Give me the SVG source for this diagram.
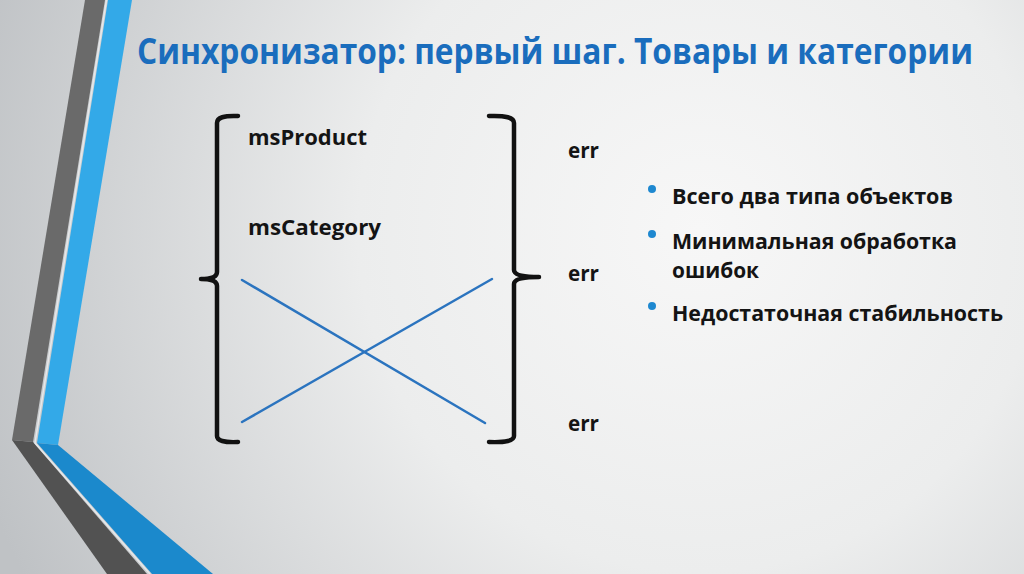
<svg xmlns="http://www.w3.org/2000/svg" width="1024" height="574" viewBox="0 0 1024 574">
<defs>
<radialGradient id="bg" cx="700" cy="230" r="760" gradientUnits="userSpaceOnUse">
<stop offset="0" stop-color="#f7f7f7"/>
<stop offset="0.45" stop-color="#eceded"/>
<stop offset="1" stop-color="#bfc2c5"/>
</radialGradient>
<style>
.title{font-family:"Open Sans","Noto Sans","Liberation Sans",sans-serif;font-weight:bold;font-size:36px;fill:#1a6dbd}
.t{font-family:"Open Sans","Noto Sans","Liberation Sans",sans-serif;font-weight:bold;font-size:21px;fill:#141414}
.brace{fill:none;stroke:#111;stroke-width:4.5;stroke-linecap:round;stroke-linejoin:round}
.x{stroke:#2b74bf;stroke-width:2.5;stroke-linecap:round}
.dot{fill:#1e88d0}
</style>
</defs>
<rect width="1024" height="574" fill="url(#bg)"/>
<g id="decoration">
<polygon points="85,0 105,0 33,442 12,440" fill="#6a6a6a"/>
<polygon points="12,440 33,442 147,574 107,574" fill="#525252"/>
<polygon points="108,0 132,0 58,445 37,443" fill="#33a9e8"/>
<polygon points="37,443 58,445 213,574 152,574" fill="#1b89cc"/>
<polyline points="106.5,0 35,443 150,574" fill="none" stroke="#e6e8ea" stroke-width="1.5"/>
</g>
<g id="title"><text class="title" transform="translate(137,64) scale(0.85,1)" x="0" y="0" textLength="983.5" lengthAdjust="spacingAndGlyphs">Синхронизатор: первый шаг. Товары и категории</text></g>
<g id="left-brace"><path class="brace" d="M238,116 Q217,115 217,123 L217,272 Q217,279 201,279 Q217,279 217,286 L217,436 Q217,443 238,442"/></g>
<g id="right-brace"><path class="brace" d="M489,116 Q514,115 514,123 L514,270 Q514,277 539,277 Q514,277 514,284 L514,436 Q514,443 489,442"/></g>
<g id="msProduct"><text class="t" x="248" y="145" textLength="119" lengthAdjust="spacingAndGlyphs">msProduct</text></g>
<g id="msCategory"><text class="t" x="248" y="235" textLength="133" lengthAdjust="spacingAndGlyphs">msCategory</text></g>
<g id="err1"><text class="t" x="568" y="158" textLength="31" lengthAdjust="spacingAndGlyphs">err</text></g>
<g id="err2"><text class="t" x="568" y="281" textLength="31" lengthAdjust="spacingAndGlyphs">err</text></g>
<g id="err3"><text class="t" x="568" y="431" textLength="31" lengthAdjust="spacingAndGlyphs">err</text></g>
<g id="connectors">
<line class="x" x1="242" y1="280" x2="485" y2="423"/>
<line class="x" x1="242" y1="422" x2="492" y2="279"/>
</g>
<g id="bullets">
<circle class="dot" cx="652" cy="189" r="4"/>
<text class="t" x="672" y="204" textLength="281" lengthAdjust="spacingAndGlyphs">Всего два типа объектов</text>
<circle class="dot" cx="652" cy="234" r="4"/>
<text class="t" x="672" y="249" textLength="285" lengthAdjust="spacingAndGlyphs">Минимальная обработка</text>
<text class="t" x="672" y="278" textLength="87" lengthAdjust="spacingAndGlyphs">ошибок</text>
<circle class="dot" cx="652" cy="306" r="4"/>
<text class="t" x="672" y="321" textLength="331" lengthAdjust="spacingAndGlyphs">Недостаточная стабильность</text>
</g>
</svg>
